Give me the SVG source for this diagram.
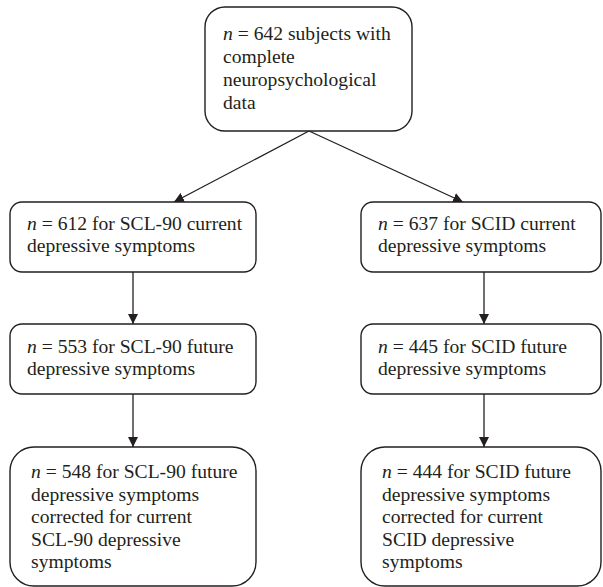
<svg xmlns="http://www.w3.org/2000/svg" width="603" height="587" viewBox="0 0 603 587">
<defs>
<style>
.box{fill:#fff;stroke:#231f20;stroke-width:1.4}
.t{font-family:"Liberation Serif","Times New Roman",serif;font-size:19.6px;fill:#231f20}
.i{font-style:italic}
.c{stroke:#231f20;stroke-width:1.3;fill:none;marker-end:url(#ah)}
</style>
<marker id="ah" viewBox="0 0 10 10" refX="10" refY="5" markerWidth="10" markerHeight="10" markerUnits="userSpaceOnUse" orient="auto">
<path d="M0,0 L10,5 L0,10 z" fill="#231f20"/>
</marker>
</defs>
<rect width="603" height="587" fill="#fff"/>
<g id="connectors">
<line class="c" x1="309" y1="131" x2="174" y2="202"/>
<line class="c" x1="309" y1="131" x2="463" y2="202"/>
<line class="c" x1="133" y1="272" x2="133" y2="324"/>
<line class="c" x1="133" y1="394" x2="133" y2="447"/>
<line class="c" x1="484" y1="272" x2="484" y2="324"/>
<line class="c" x1="484" y1="394" x2="484" y2="447"/>
</g>
<g id="n0">
<rect class="box" x="205" y="7" width="207" height="124" rx="20"/>
<text class="t" x="223" y="40"><tspan class="i">n</tspan> = 642 subjects with</text>
<text class="t" x="223" y="63">complete</text>
<text class="t" x="223" y="86">neuropsychological</text>
<text class="t" x="223" y="108.5">data</text>
</g>
<g id="n1">
<rect class="box" x="10" y="202" width="246" height="70" rx="12"/>
<text class="t" x="27" y="230"><tspan class="i">n</tspan> = 612 for SCL-90 current</text>
<text class="t" x="27" y="251.5">depressive symptoms</text>
</g>
<g id="n2">
<rect class="box" x="361" y="202" width="240" height="70" rx="12"/>
<text class="t" x="378" y="230"><tspan class="i">n</tspan> = 637 for SCID current</text>
<text class="t" x="378" y="251.5">depressive symptoms</text>
</g>
<g id="n3">
<rect class="box" x="10" y="324" width="246" height="70" rx="12"/>
<text class="t" x="27" y="353"><tspan class="i">n</tspan> = 553 for SCL-90 future</text>
<text class="t" x="27" y="374.5">depressive symptoms</text>
</g>
<g id="n4">
<rect class="box" x="361" y="324" width="240" height="70" rx="12"/>
<text class="t" x="378" y="353"><tspan class="i">n</tspan> = 445 for SCID future</text>
<text class="t" x="378" y="374.5">depressive symptoms</text>
</g>
<g id="n5">
<rect class="box" x="10" y="447" width="246" height="139" rx="24"/>
<text class="t" x="31" y="478"><tspan class="i">n</tspan> = 548 for SCL-90 future</text>
<text class="t" x="31" y="500.5">depressive symptoms</text>
<text class="t" x="31" y="523">corrected for current</text>
<text class="t" x="31" y="545.5">SCL-90 depressive</text>
<text class="t" x="31" y="568">symptoms</text>
</g>
<g id="n6">
<rect class="box" x="361" y="447" width="240" height="139" rx="24"/>
<text class="t" x="382" y="478"><tspan class="i">n</tspan> = 444 for SCID future</text>
<text class="t" x="382" y="500.5">depressive symptoms</text>
<text class="t" x="382" y="523">corrected for current</text>
<text class="t" x="382" y="545.5">SCID depressive</text>
<text class="t" x="382" y="568">symptoms</text>
</g>
</svg>
